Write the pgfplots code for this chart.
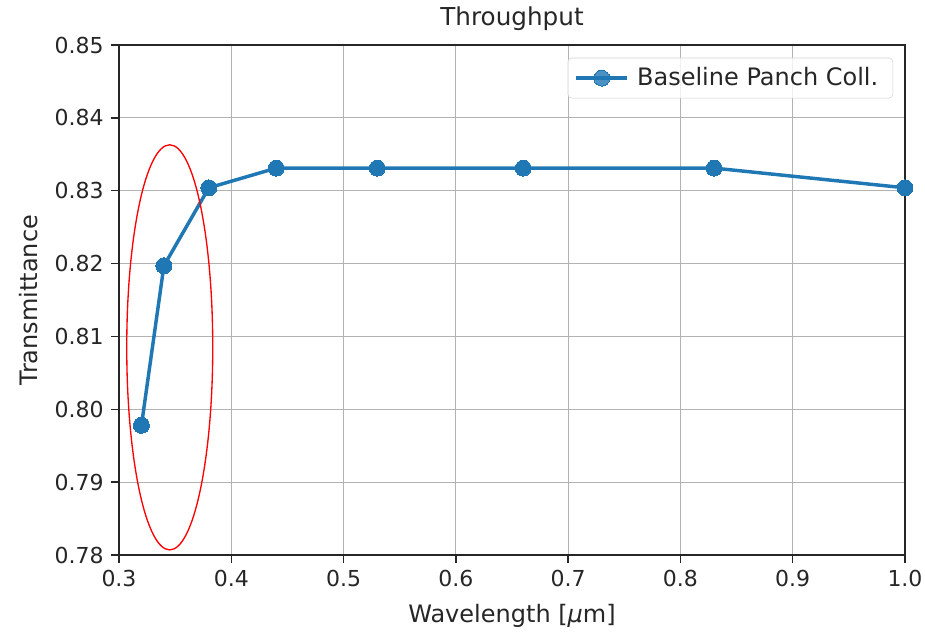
\documentclass[border=0pt]{standalone}
\usepackage{fontspec}
\setmainfont{DejaVu Sans}
\usepackage{pgfplots}
\pgfplotsset{compat=1.18}
\definecolor{mplblue}{HTML}{1F77B4}
\definecolor{txt}{HTML}{262626}
\begin{document}
\fontsize{16pt}{19pt}\selectfont
\begin{tikzpicture}
\useasboundingbox (-89.25pt,-59.25pt) rectangle (604.5pt,416.25pt);
\begin{axis}[
  at={(0,0)}, anchor=south west,
  scale only axis, width=589.5pt, height=382.5pt,
  xmin=0.3, xmax=1.0, ymin=0.78, ymax=0.85,
  xtick={0.3,0.4,...,1.0}, ytick={0.78,0.79,...,0.85},
  xticklabel style={/pgf/number format/.cd, fixed, fixed zerofill, precision=1},
  yticklabel style={/pgf/number format/.cd, fixed, fixed zerofill, precision=2},
  /pgf/number format/assume math mode=true,
  tick label style={font=\fontsize{16.5pt}{19pt}\selectfont, text=txt},
  label style={font=\fontsize{18pt}{21pt}\selectfont, text=txt},
  xlabel style={yshift=-2pt},
  ylabel style={yshift=2pt},
  title style={font=\fontsize{18.5pt}{21pt}\selectfont, text=txt, yshift=-1pt},
  title={Throughput},
  xlabel={Wavelength [{\itshape μ}m]},
  ylabel={Transmittance},
  grid=major,
  major grid style={draw=black!30, line width=0.9pt},
  axis line style={draw=txt, line width=1.1pt},
  tick style={draw=txt, line width=1pt},
  tick align=outside, major tick length=6pt,
  xtick pos=bottom, ytick pos=left,
  legend style={draw=black!18, rounded corners=3pt, font=\fontsize{18pt}{21pt}\selectfont, text=txt, inner sep=5pt, at={(0.985,0.975)}, anchor=north east, fill=white, fill opacity=0.8, text opacity=1, nodes={inner xsep=6pt}},
  legend cell align=left,
  legend image code/.code={
    \draw[#1, mark=none] (0cm,0cm) -- (1.35cm,0cm);
    \draw[#1, only marks] plot coordinates {(0.675cm,0cm)};
  },
  clip=false,
]
\addplot[color=mplblue, line width=2.6pt, mark=*, mark size=6pt, mark options={fill=mplblue, draw=mplblue, line width=0pt}] coordinates {
 (0.32,0.7978) (0.34,0.8197) (0.38,0.8304) (0.44,0.8331) (0.53,0.8331) (0.66,0.8331) (0.83,0.8331) (1.0,0.8304)
};
\addlegendentry{Baseline Panch Coll.}
\draw[red, line width=1pt] (axis cs:0.3452,0.8085) ellipse [x radius=0.0383, y radius=0.0278];
\end{axis}
\end{tikzpicture}
\end{document}
